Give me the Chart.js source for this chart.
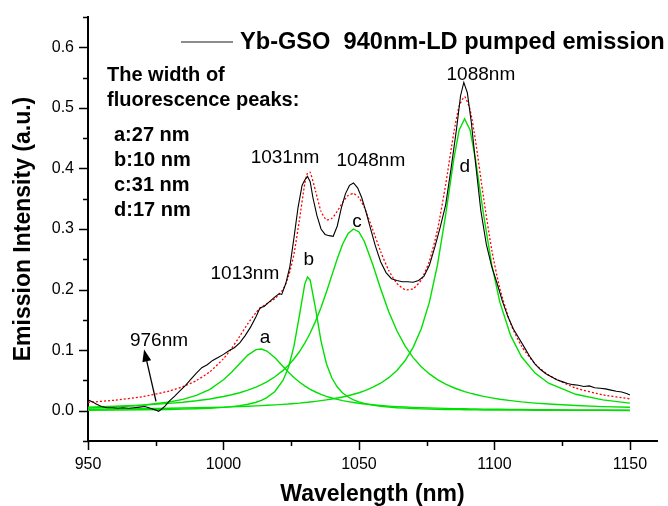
<!DOCTYPE html>
<html>
<head>
<meta charset="utf-8">
<script src="https://cdn.jsdelivr.net/npm/chart.js@4.4.1/dist/chart.umd.min.js"></script>
<style>
  html, body { margin: 0; padding: 0; background: #fff; }
  #wrap { width: 668px; height: 506px; }
</style>
</head>
<body>
<div id="wrap"><canvas id="spectrumChart"></canvas></div>
<script>
// Measured Yb-GSO emission spectrum (nm, a.u.)
const measuredWave = [950, 951.5, 953, 955, 957, 959, 961, 963, 965, 967, 969, 971, 973, 975, 976, 977, 978.5, 980, 982, 984,
  986, 988, 990, 992, 994, 996, 998, 1000, 1002, 1004, 1006, 1008, 1010, 1012, 1013.5, 1015, 1017, 1019, 1020.5, 1021.5,
  1023, 1024.5, 1026, 1027.5, 1029, 1030, 1031, 1032, 1033, 1034.5, 1036, 1037.5, 1039, 1040.5, 1042, 1043.5, 1045, 1046.5,
  1048, 1049.5, 1051, 1052.5, 1054, 1056, 1058, 1060, 1062, 1064, 1066, 1068, 1070, 1072, 1074, 1076, 1078, 1080, 1082,
  1084, 1086, 1087.5, 1088.7, 1090, 1091.5, 1093, 1095, 1097, 1099, 1101, 1103, 1105, 1107, 1109, 1111, 1113, 1115, 1117,
  1119, 1121, 1123, 1125, 1127, 1129, 1131, 1133, 1135, 1137, 1139, 1141, 1143, 1145, 1147, 1149, 1150];
const measuredIntensity = [0.018, 0.015, 0.011, 0.007, 0.005, 0.005, 0.004, 0.005, 0.004, 0.005, 0.006, 0.007, 0.004, 0.001, -0.001, 0.002, 0.008, 0.016, 0.024, 0.033,
  0.042, 0.052, 0.062, 0.071, 0.076, 0.083, 0.088, 0.093, 0.099, 0.104, 0.112, 0.124, 0.138, 0.155, 0.170, 0.172, 0.180, 0.188, 0.193, 0.192,
  0.210, 0.238, 0.285, 0.335, 0.372, 0.381, 0.387, 0.378, 0.352, 0.322, 0.300, 0.291, 0.289, 0.288, 0.305, 0.335, 0.358, 0.372,
  0.376, 0.368, 0.352, 0.330, 0.305, 0.273, 0.246, 0.228, 0.218, 0.215, 0.213, 0.213, 0.212, 0.215, 0.222, 0.240, 0.270, 0.303, 0.340,
  0.400, 0.465, 0.520, 0.542, 0.525, 0.475, 0.410, 0.330, 0.275, 0.238, 0.210, 0.180, 0.155, 0.135, 0.120, 0.105, 0.090, 0.077, 0.068,
  0.061, 0.056, 0.051, 0.048, 0.045, 0.043, 0.042, 0.040, 0.041, 0.038, 0.037, 0.036, 0.034, 0.032, 0.031, 0.028, 0.026];

// Peak fit: common wavelength grid, four components and their sum
const fitWave = [950, 960, 970, 980, 985, 990, 995, 1000, 1003, 1006, 1009, 1012, 1014, 1016, 1019, 1022, 1024, 1026, 1028, 1030,
  1031, 1032, 1034, 1036, 1038, 1040, 1042, 1044, 1046, 1048, 1050, 1052, 1055, 1058, 1061, 1064, 1067, 1070, 1073, 1076,
  1079, 1082, 1085, 1087, 1089, 1091, 1093, 1096, 1099, 1102, 1106, 1110, 1115, 1120, 1130, 1140, 1150];
const peakA = [0.0044, 0.0061, 0.0090, 0.0143, 0.0187, 0.0253, 0.0354, 0.0510, 0.0636, 0.0780, 0.0918, 0.1008, 0.1019, 0.0986, 0.0875, 0.0731, 0.0636, 0.0549, 0.0474, 0.0409,
  0.0381, 0.0354, 0.0309, 0.0270, 0.0238, 0.0210, 0.0187, 0.0167, 0.0150, 0.0135, 0.0123, 0.0112, 0.0098, 0.0086, 0.0076, 0.0068, 0.0061, 0.0055, 0.0050, 0.0046,
  0.0042, 0.0038, 0.0035, 0.0033, 0.0032, 0.0030, 0.0029, 0.0027, 0.0025, 0.0023, 0.0021, 0.0020, 0.0018, 0.0016, 0.0014, 0.0012, 0.0010];
const peakB = [0.0008, 0.0011, 0.0015, 0.0021, 0.0026, 0.0032, 0.0041, 0.0055, 0.0067, 0.0084, 0.0107, 0.0140, 0.0172, 0.0216, 0.0318, 0.0504, 0.0719, 0.1062, 0.1567, 0.2090,
  0.2206, 0.2155, 0.1682, 0.1150, 0.0775, 0.0539, 0.0390, 0.0293, 0.0226, 0.0180, 0.0146, 0.0121, 0.0093, 0.0074, 0.0061, 0.0050, 0.0042, 0.0036, 0.0031, 0.0027,
  0.0024, 0.0021, 0.0019, 0.0018, 0.0016, 0.0015, 0.0014, 0.0013, 0.0012, 0.0011, 0.0010, 0.0009, 0.0008, 0.0007, 0.0006, 0.0005, 0.0004];
const peakC = [0.0060, 0.0074, 0.0093, 0.0121, 0.0140, 0.0164, 0.0194, 0.0234, 0.0263, 0.0297, 0.0339, 0.0390, 0.0431, 0.0477, 0.0561, 0.0666, 0.0752, 0.0854, 0.0973, 0.1115,
  0.1196, 0.1283, 0.1479, 0.1705, 0.1960, 0.2234, 0.2508, 0.2752, 0.2928, 0.3000, 0.2951, 0.2794, 0.2427, 0.2013, 0.1634, 0.1319, 0.1070, 0.0876, 0.0725, 0.0607,
  0.0514, 0.0439, 0.0379, 0.0346, 0.0316, 0.0290, 0.0267, 0.0237, 0.0212, 0.0190, 0.0166, 0.0146, 0.0126, 0.0110, 0.0085, 0.0068, 0.0056];
const peakD = [0.0025, 0.0029, 0.0034, 0.0040, 0.0044, 0.0049, 0.0054, 0.0060, 0.0064, 0.0069, 0.0074, 0.0080, 0.0084, 0.0089, 0.0096, 0.0105, 0.0111, 0.0119, 0.0126, 0.0135,
  0.0139, 0.0144, 0.0154, 0.0166, 0.0179, 0.0193, 0.0209, 0.0227, 0.0247, 0.0271, 0.0297, 0.0328, 0.0384, 0.0454, 0.0545, 0.0665, 0.0825, 0.1046, 0.1354, 0.1792,
  0.2410, 0.3235, 0.4155, 0.4635, 0.4820, 0.4635, 0.4155, 0.3235, 0.2410, 0.1792, 0.1239, 0.0891, 0.0621, 0.0454, 0.0271, 0.0179, 0.0126];
const fitSum = [0.0137, 0.0174, 0.0231, 0.0325, 0.0397, 0.0498, 0.0644, 0.0859, 0.1030, 0.1230, 0.1438, 0.1619, 0.1706, 0.1768, 0.1850, 0.2006, 0.2218, 0.2583, 0.3140, 0.3749,
  0.3922, 0.3936, 0.3624, 0.3291, 0.3151, 0.3176, 0.3294, 0.3439, 0.3552, 0.3586, 0.3517, 0.3355, 0.3002, 0.2628, 0.2316, 0.2102, 0.1999, 0.2013, 0.2160, 0.2472,
  0.2989, 0.3734, 0.4588, 0.5031, 0.5184, 0.4970, 0.4465, 0.3512, 0.2659, 0.2017, 0.1436, 0.1066, 0.0773, 0.0587, 0.0375, 0.0263, 0.0196];

// Labels placed at data coordinates
const peakNotes = [
  { text: '1013nm', x: 1007.9, y: 0.226 },
  { text: '1031nm', x: 1022.7, y: 0.418 },
  { text: '1048nm', x: 1054.4, y: 0.413 },
  { text: '1088nm', x: 1095.0, y: 0.555 },
  { text: '976nm', x: 976.2, y: 0.116 },
  { text: 'a', x: 1015.3, y: 0.121 },
  { text: 'b', x: 1031.5, y: 0.250 },
  { text: 'c', x: 1049.3, y: 0.312 },
  { text: 'd', x: 1089.1, y: 0.403 }
];
const widthNotes = ['a:27 nm', 'b:10 nm', 'c:31 nm', 'd:17 nm'];
const legendText = 'Yb-GSO  940nm-LD pumped emission';

const FONT = "Arial, 'Liberation Sans', sans-serif";
Chart.defaults.font.family = FONT;
Chart.defaults.color = '#000';

const toPoints = (xs, ys) => xs.map((x, i) => ({ x: x, y: ys[i] }));
const isTenth = v => Math.abs(v * 10 - Math.round(v * 10)) < 1e-6;

// tick marks outside the axes, long on labelled values
const axisTicks = {
  id: 'axisTicks',
  afterDraw(chart) {
    const { ctx, chartArea, scales } = chart;
    ctx.save();
    ctx.strokeStyle = '#000';
    ctx.lineWidth = 1.5;
    ctx.beginPath();
    scales.x.ticks.forEach(t => {
      const px = Math.round(scales.x.getPixelForValue(t.value)) + 0.5;
      const len = t.value % 50 === 0 ? 9 : 5;
      ctx.moveTo(px, chartArea.bottom);
      ctx.lineTo(px, chartArea.bottom + len);
    });
    scales.y.ticks.forEach(t => {
      const py = Math.round(scales.y.getPixelForValue(t.value)) + 0.5;
      const len = isTenth(t.value) ? 9 : 5;
      ctx.moveTo(chartArea.left, py);
      ctx.lineTo(chartArea.left - len, py);
    });
    ctx.stroke();
    ctx.restore();
  }
};

const notes = {
  id: 'notes',
  afterDraw(chart) {
    const { ctx, scales } = chart;
    const x = scales.x, y = scales.y;
    ctx.save();
    ctx.fillStyle = '#000';
    ctx.textAlign = 'center';
    ctx.textBaseline = 'middle';
    ctx.font = '19px ' + FONT;
    peakNotes.forEach(n => {
      ctx.fillText(n.text, x.getPixelForValue(n.x), y.getPixelForValue(n.y));
    });

    // arrow to the 976nm dip
    const x0 = x.getPixelForValue(975.1), y0 = y.getPixelForValue(0.0154);
    const x1 = x.getPixelForValue(970.7), y1 = y.getPixelForValue(0.101);
    const ang = Math.atan2(y1 - y0, x1 - x0);
    ctx.strokeStyle = '#000';
    ctx.lineWidth = 1.3;
    ctx.beginPath();
    ctx.moveTo(x0, y0);
    ctx.lineTo(x1 - 6 * Math.cos(ang), y1 - 6 * Math.sin(ang));
    ctx.stroke();
    ctx.beginPath();
    ctx.moveTo(x1, y1);
    ctx.lineTo(x1 - 12 * Math.cos(ang) + 4.5 * Math.sin(ang), y1 - 12 * Math.sin(ang) - 4.5 * Math.cos(ang));
    ctx.lineTo(x1 - 12 * Math.cos(ang) - 4.5 * Math.sin(ang), y1 - 12 * Math.sin(ang) + 4.5 * Math.cos(ang));
    ctx.closePath();
    ctx.fill();

    // width block
    ctx.textAlign = 'left';
    ctx.font = 'bold 20px ' + FONT;
    ctx.fillText('The width of', 107, 75);
    ctx.fillText('fluorescence peaks:', 107, 100);
    widthNotes.forEach((t, i) => ctx.fillText(t, 114, 135 + i * 25.3));

    // legend
    ctx.strokeStyle = '#666';
    ctx.lineWidth = 1.5;
    ctx.beginPath();
    ctx.moveTo(181, 42);
    ctx.lineTo(233, 42);
    ctx.stroke();
    ctx.font = 'bold 23.6px ' + FONT;
    ctx.fillText(legendText, 240, 42);
    ctx.restore();
  }
};

const greenLine = data => ({
  data: data,
  borderColor: '#00e000',
  borderWidth: 1.4,
  pointRadius: 0,
  tension: 0,
  fill: false
});

new Chart(document.getElementById('spectrumChart'), {
  type: 'line',
  data: {
    datasets: [
      {
        label: legendText,
        data: toPoints(measuredWave, measuredIntensity),
        borderColor: '#000',
        borderWidth: 1.1,
        pointRadius: 0,
        tension: 0
      },
      {
        label: 'fit',
        data: toPoints(fitWave, fitSum),
        borderColor: '#ff0000',
        borderWidth: 1.3,
        borderDash: [2, 2],
        pointRadius: 0,
        tension: 0.2
      },
      greenLine(toPoints(fitWave, peakA)),
      greenLine(toPoints(fitWave, peakB)),
      greenLine(toPoints(fitWave, peakC)),
      greenLine(toPoints(fitWave, peakD))
    ]
  },
  options: {
    responsive: true,
    maintainAspectRatio: false,
    animation: false,
    layout: { padding: { top: 17, right: 11, left: 0, bottom: 0 } },
    plugins: { legend: { display: false }, tooltip: { enabled: false } },
    scales: {
      x: {
        type: 'linear',
        min: 950,
        max: 1160,
        grid: { display: false },
        border: { display: true, color: '#000', width: 2 },
        ticks: {
          stepSize: 25,
          includeBounds: false,
          autoSkip: false,
          maxRotation: 0,
          padding: 6,
          font: { size: 16 },
          callback: v => (v % 50 === 0 ? String(v) : '')
        },
        title: {
          display: true,
          text: 'Wavelength (nm)',
          font: { size: 23, weight: 'bold', lineHeight: 1 },
          padding: { top: 0, bottom: 0 }
        },
        afterFit: scale => { scale.height = 65; }
      },
      y: {
        min: -0.05,
        max: 0.65,
        grid: { display: false },
        border: { display: true, color: '#000', width: 2 },
        ticks: {
          stepSize: 0.05,
          includeBounds: false,
          autoSkip: false,
          padding: 6,
          font: { size: 16 },
          callback: v => (isTenth(v) && v > -0.01 ? v.toFixed(1) : '')
        },
        title: {
          display: true,
          text: 'Emission Intensity (a.u.)',
          font: { size: 23, weight: 'bold', lineHeight: 1.2 },
          padding: { top: 10, bottom: 0 }
        },
        afterFit: scale => { scale.height; scale.width = 88; }
      }
    }
  },
  plugins: [axisTicks, notes]
});
</script>
</body>
</html>
